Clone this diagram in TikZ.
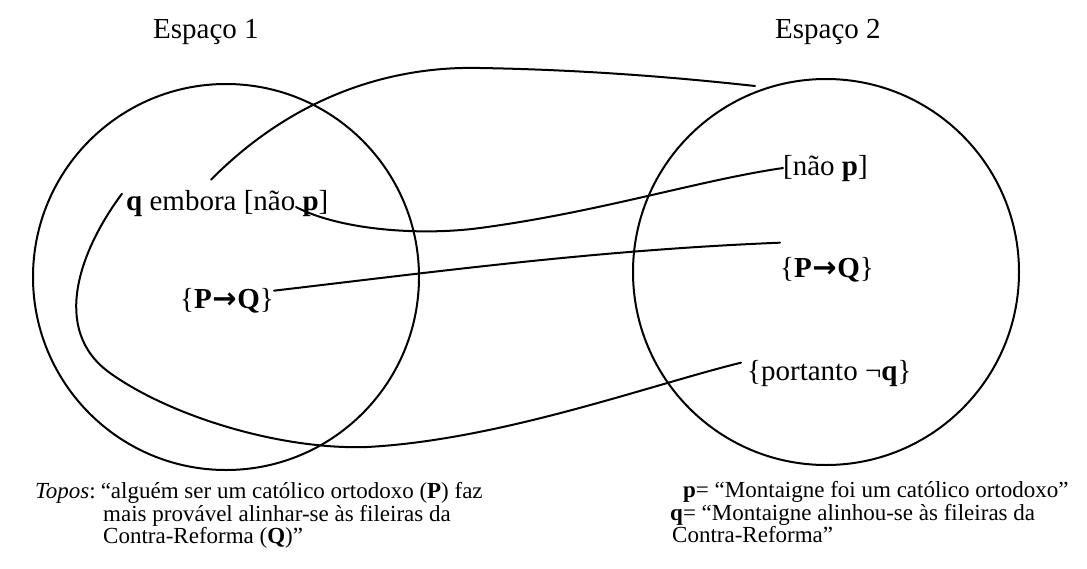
\documentclass[tikz,border=0pt]{standalone}
\usepackage{fontspec}
\setmainfont{Liberation Serif}
\newfontfamily\arrowfont{DejaVu Sans}
\newcommand{\implarrow}{{\arrowfont\bfseries\kern0.02em→\kern0.02em}}
\usetikzlibrary{calc}
\begin{document}
\begin{tikzpicture}[x=1pt,y=-1pt,
  space/.style={circle, draw, line width=2pt, inner sep=0pt, minimum size=386pt},
  wire/.style={line width=2pt, line cap=round},
  big/.style={inner sep=0pt, anchor=base west, font=\fontsize{29}{31}\selectfont},
  small/.style={inner sep=0pt, anchor=base west, font=\fontsize{23}{25}\selectfont}]
\useasboundingbox (0,0) rectangle (1087,568);

% the two mental spaces
\node[space] (s1) at (226,277) {};
\node[space] (s2) at (826,272) {};

% titles
\node[big] (title1) at (153,38) {Espaço 1};
\node[big] (title2) at (775,38) {Espaço 2};

% contents of space 1
\node[big] (qemb) at (126,210) {\textbf{q} embora [não \textbf{p}]};
\node[big] (pq1) at (180,308) {\{\textbf{P}\implarrow\textbf{Q}\}};

% contents of space 2
\node[big] (naop) at (783,175) {[não \textbf{p}]};
\node[big] (pq2) at (780,277) {\{\textbf{P}\implarrow\textbf{Q}\}};
\node[big] (portanto) at (747,380) {\{portanto ¬\textbf{q}\}};

% free ends of the links
\coordinate (c1s) at ($(qemb.north west)+(85,-10)$);
\coordinate (c1e) at (755,86);
\coordinate (c2s) at ($(qemb.north west)+(-4,4)$);
\coordinate (c3s) at ($(qemb.base west)+(170,-3)$);

% links between the spaces
\draw[wire] (c1s) .. controls (300,90) and (400,66) .. (480,68)
            .. controls (600,70) and (700,80) .. (c1e);
\draw[wire] (c2s) .. controls (80,250) and (50,330) .. (110,373)
            .. controls (170,416) and (280,450) .. (367,447)
            .. controls (500,440) and (650,385) .. ($(portanto.north west)+(-6,3)$);
\draw[wire] (c3s) .. controls (340,230) and (420,236) .. (480,228)
            .. controls (600,212) and (700,180) .. (naop.west);
\draw[wire] ($(pq1.north east)+(0,3)$) .. controls (450,270) and (600,250) .. ($(pq2.north west)+(0,-14)$);

% legend
\node[small] (topos1) at (35,498) {\textit{Topos}:\hspace{0.22em}“alguém ser um católico ortodoxo (\textbf{P}) faz};
\node[small] (topos2) at (103,521) {mais provável alinhar-se às fileiras da};
\node[small] (topos3) at (103,543) {Contra-Reforma (\textbf{Q})”};

\node[small] (defp) at (683,497) {\textbf{p}= “Montaigne foi um católico ortodoxo”};
\node[small] (defq) at (670,520) {\textbf{q}= “Montaigne alinhou-se às fileiras da};
\node[small] (defc) at (672,542) {Contra-Reforma”};
\end{tikzpicture}
\end{document}
